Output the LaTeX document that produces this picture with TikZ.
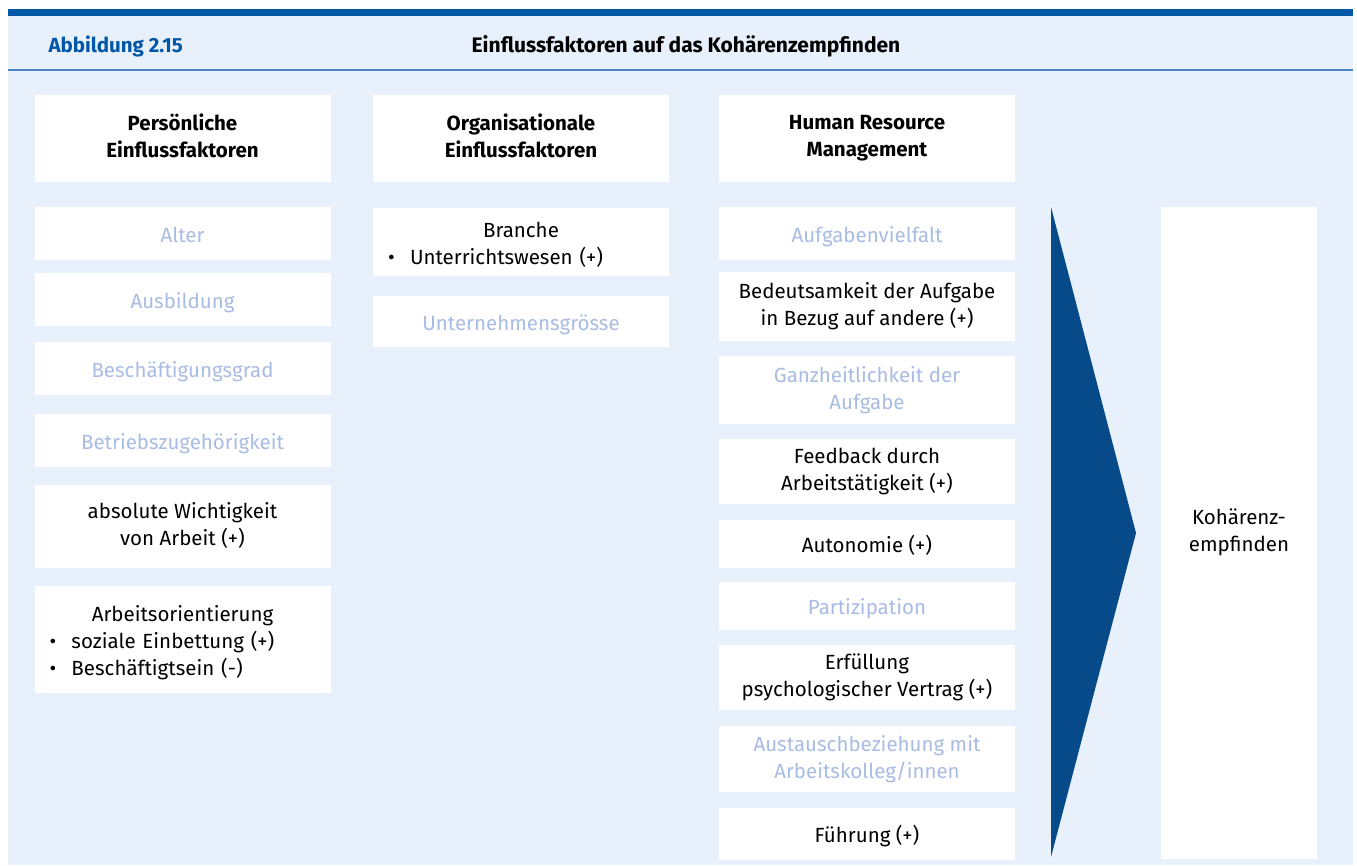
\documentclass[tikz,border=0pt]{standalone}
\usepackage{fontspec}
\setmainfont{Fira Sans}
\definecolor{barblue}{HTML}{0057A6}
\definecolor{ruleblue}{HTML}{4A86C5}
\definecolor{bgblue}{HTML}{E8F1FB}
\definecolor{fade}{HTML}{A9BCE3}
\definecolor{arrowblue}{HTML}{074A89}
\newcommand{\fs}{\fontsize{20.5}{27}\selectfont}
\newcommand{\lstrut}{\rule[-5pt]{0pt}{27pt}}
\newcommand{\bul}{\par\hspace*{15pt}\makebox[22pt][l]{\textbullet}}
\begin{document}
\begin{tikzpicture}[x=1pt,y=-1pt,
  box/.style={fill=white,inner sep=0,minimum width=296,align=center,font=\fs,
    execute at begin node=\lstrut,execute at end node=\lstrut},
  dim/.style={box,text=fade},
  head/.style={box,font=\fs\bfseries,minimum height=87},
  list/.style={box,text width=296,align=left}]
\useasboundingbox (0,0) rectangle (1357,865);
\fill[bgblue] (8,9) rectangle (1353,865);
\fill[barblue] (8,9) rectangle (1353,16);
\draw[ruleblue,line width=1.5] (8,70) -- (1353,70);

\node[anchor=west,text=barblue,font=\fs\bfseries] (fig) at (45,46) {Abbildung 2.15};
\node[font=\fontsize{21}{27}\selectfont\bfseries] (title) at (686,46) {Einflussfaktoren auf das Kohärenzempfinden};

\node[head] (pers) at (182.5,138.5) {Persönliche\\Einflussfaktoren};
\node[head] (org) at (521,138.5) {Organisationale\\Einflussfaktoren};
\node[head] (hrm) at (867,138.5) {Human Resource\\Management};

\node[dim,minimum height=53] (alter) at (182.5,233.5) {Alter};
\node[dim,minimum height=53] (ausb) at (182.5,299.5) {Ausbildung};
\node[dim,minimum height=53] (grad) at (182.5,368.5) {Beschäftigungsgrad};
\node[dim,minimum height=53] (betr) at (182.5,440.5) {Betriebszugehörigkeit};
\node[box,minimum height=83] (wicht) at (182.5,526.5) {absolute Wichtigkeit\\von Arbeit (+)};
\node[list,minimum height=107] (orient) at (182.5,639.5)
  {\makebox[296pt]{Arbeitsorientierung}\bul soziale Einbettung (+)\bul Beschäftigtsein (-)};

\node[list,minimum height=68] (branche) at (521,242)
  {\makebox[296pt]{Branche}\bul Unterrichtswesen (+)};
\node[dim,minimum height=51] (groesse) at (521,321.5) {Unternehmensgrösse};

\node[dim,minimum height=53] (vielfalt) at (867,233.5) {Aufgabenvielfalt};
\node[box,minimum height=69] (bedeut) at (867,306.5) {Bedeutsamkeit der Aufgabe\\in Bezug auf andere (+)};
\node[dim,minimum height=68] (ganz) at (867,390) {Ganzheitlichkeit der\\Aufgabe};
\node[box,minimum height=65] (feedb) at (867,471.5) {Feedback durch\\Arbeitstätigkeit (+)};
\node[box,minimum height=48] (auton) at (867,544) {Autonomie (+)};
\node[dim,minimum height=48] (partiz) at (867,606) {Partizipation};
\node[box,minimum height=65] (erfuell) at (867,677.5) {Erfüllung\\psychologischer Vertrag (+)};
\node[dim,minimum height=66] (austausch) at (867,759) {Austauschbeziehung mit\\Arbeitskolleg/innen};
\node[box,minimum height=52] (fuehr) at (867,834) {Führung (+)};

\fill[arrowblue] (1051,207) -- (1136,533) -- (1051,857) -- cycle;
\node[box,minimum width=156,minimum height=652] (koh) at (1239,533) {Kohärenz-\\empfinden};

\end{tikzpicture}
\end{document}
